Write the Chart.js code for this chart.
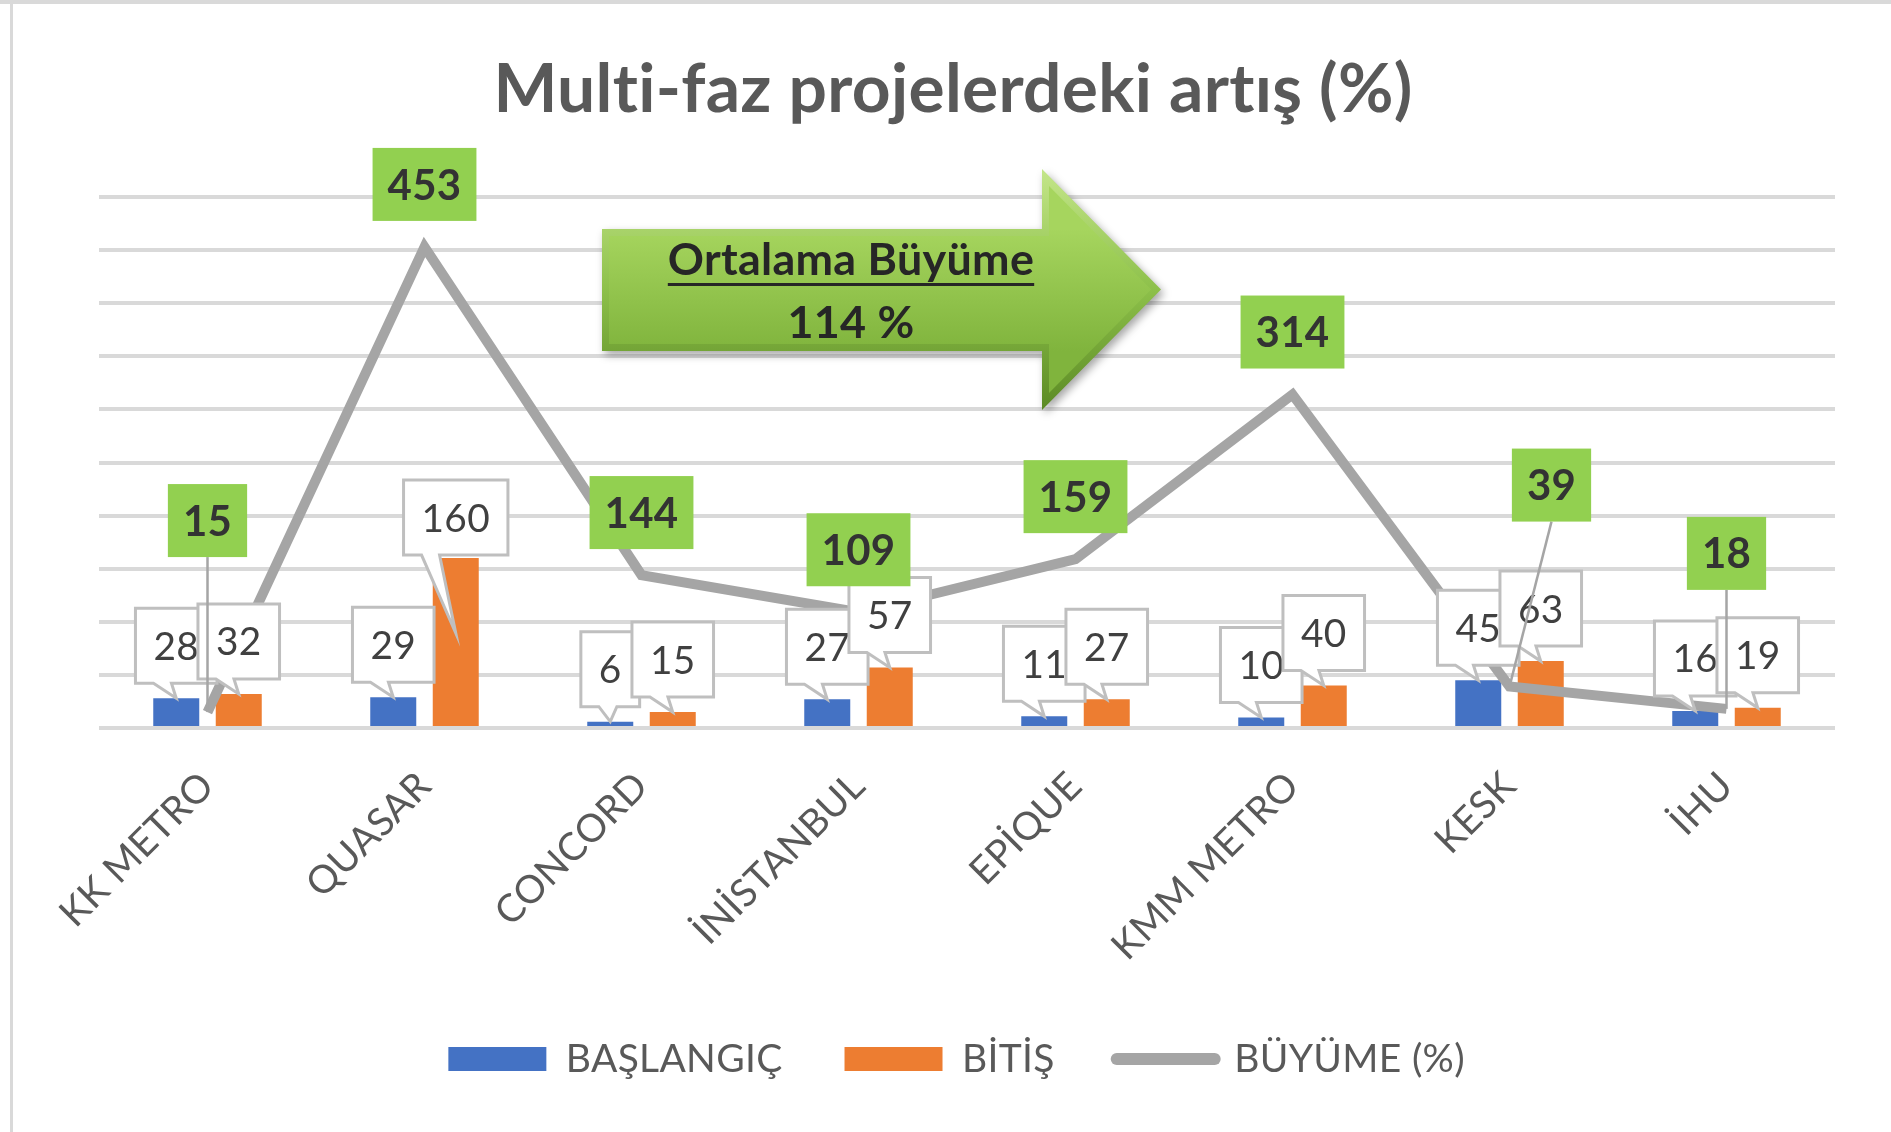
<!DOCTYPE html>
<html>
<head>
<meta charset="utf-8">
<script src="https://cdn.jsdelivr.net/npm/chart.js@4.4.1/dist/chart.umd.min.js"></script>
<style>
  html, body { margin: 0; padding: 0; background: #fff; }
  canvas { display: block; }
</style>
</head>
<body>
<canvas id="growthChart" width="1891" height="1132"></canvas>
<script>
const categories = ['KK METRO', 'QUASAR', 'CONCORD', 'İNİSTANBUL', 'EPİQUE', 'KMM METRO', 'KESK', 'İHU'];
const baslangic = [28, 29, 6, 27, 11, 10, 45, 16];
const bitis = [32, 160, 15, 57, 27, 40, 63, 19];
const buyume = [15, 453, 144, 109, 159, 314, 39, 18];
const seriesNames = ['BAŞLANGIÇ', 'BİTİŞ', 'BÜYÜME (%)'];
const chartTitle = 'Multi-faz projelerdeki artış (%)';
const averageTitle = 'Ortalama Büyüme';
const averageText = '114 %';

const FONT = 'Lato';
const measure = document.createElement('canvas').getContext('2d');
function fitSize(text, weight, width) {
    measure.font = weight + ' 100px ' + FONT;
    return 100 * width / measure.measureText(text).width;
}

const titleSize = fitSize(chartTitle, 'bold', 912);
const tickSize = fitSize('KMM METRO', 'normal', 243);
const legendSize = fitSize('BAŞLANGIÇ', 'normal', 214);
const badgeSize = fitSize('453', 'bold', 73);
const calloutSize = fitSize('32', 'normal', 45);
const arrowSize = fitSize(averageTitle, 'bold', 362);

// vertical layout
const plotTop = 197, plotBottom = 728;
const titlePadTop = 90 - titleSize * 0.6;
const titlePadBottom = plotTop - titlePadTop - titleSize * 1.2;
const legendPad = 62;
const legendTop = 1059 - legendPad - legendSize / 2;
const legendBottom = legendTop + legendPad + legendSize + 10;
const xAxisHeight = legendTop - plotBottom;

// labels that were moved by hand in the original
const calloutFix = { '1-1': { gap: 3, tip: 75 } };
const badgeFix = { 0: { dx: 0, lift: 155 }, 6: { dx: 42, lift: 165 }, 7: { dx: 0, lift: 119 } };

function drawCallout(ctx, x, y, text, fix) {
    const gap = fix ? fix.gap : 15;
    const tip = fix ? fix.tip : 0;
    ctx.font = 'normal ' + calloutSize + 'px ' + FONT;
    const w = ctx.measureText(text).width + 36;
    const h = 75;
    const left = x - w / 2, bottom = y - gap, top = bottom - h;
    ctx.beginPath();
    ctx.moveTo(left, top);
    ctx.lineTo(left + w, top);
    ctx.lineTo(left + w, bottom);
    ctx.lineTo(left + 36, bottom);
    ctx.lineTo(x, y + tip);
    ctx.lineTo(left + 18, bottom);
    ctx.lineTo(left, bottom);
    ctx.closePath();
    ctx.fillStyle = '#ffffff';
    ctx.fill();
    ctx.lineWidth = 3;
    ctx.strokeStyle = '#BFBFBF';
    ctx.stroke();
    ctx.fillStyle = '#404040';
    ctx.textAlign = 'center';
    ctx.textBaseline = 'alphabetic';
    ctx.fillText(text, x, top + h / 2 + calloutSize * 0.36);
}

function drawBadge(ctx, pt, text, fix) {
    const lift = fix ? fix.lift : 26;
    const cx = pt.x + (fix ? fix.dx : 0);
    ctx.font = 'bold ' + badgeSize + 'px ' + FONT;
    const w = ctx.measureText(text).width + 30;
    const h = 73;
    const bottom = pt.y - lift, top = bottom - h;
    if (lift > 40) {
        ctx.beginPath();
        ctx.moveTo(cx, bottom);
        ctx.lineTo(pt.x, pt.y);
        ctx.lineWidth = 2.5;
        ctx.strokeStyle = '#A5A5A5';
        ctx.stroke();
    }
    ctx.fillStyle = '#92D050';
    ctx.fillRect(cx - w / 2, top, w, h);
    ctx.fillStyle = '#333333';
    ctx.textAlign = 'center';
    ctx.textBaseline = 'alphabetic';
    ctx.fillText(text, cx, top + h / 2 + badgeSize * 0.36);
}

function arrowShape(ctx, d) {
    ctx.beginPath();
    ctx.moveTo(602 + d, 229 + d);
    ctx.lineTo(1042 + d, 229 + d);
    ctx.lineTo(1042 + d, 169 + d * 2.414);
    ctx.lineTo(1161 - d * 1.414, 289.5);
    ctx.lineTo(1042 + d, 410 - d * 2.414);
    ctx.lineTo(1042 + d, 351 - d);
    ctx.lineTo(602 + d, 351 - d);
    ctx.closePath();
}

const decorations = {
    id: 'decorations',
    beforeDraw(chart) {
        const ctx = chart.ctx;
        // tiny spacing keeps the "ti" ligature out of the title
        ctx.letterSpacing = '0.3px';
        ctx.save();
        ctx.fillStyle = '#ffffff';
        ctx.fillRect(0, 0, chart.width, chart.height);
        ctx.fillStyle = '#D9D9D9';
        ctx.fillRect(0, 0, chart.width, 4);
        ctx.fillRect(10, 0, 3, chart.height);
        ctx.restore();
    },
    afterDatasetsDraw(chart) {
        const ctx = chart.ctx;
        ctx.save();
        [0, 1].forEach(di => {
            const meta = chart.getDatasetMeta(di);
            const values = chart.data.datasets[di].data;
            meta.data.forEach((bar, i) => {
                drawCallout(ctx, bar.x, bar.y, String(values[i]), calloutFix[di + '-' + i]);
            });
        });
        const lineMeta = chart.getDatasetMeta(2);
        lineMeta.data.forEach((pt, i) => {
            drawBadge(ctx, pt, String(buyume[i]), badgeFix[i]);
        });

        // average growth arrow
        ctx.save();
        ctx.shadowColor = 'rgba(0,0,0,0.35)';
        ctx.shadowBlur = 8;
        ctx.shadowOffsetX = 3;
        ctx.shadowOffsetY = 4;
        const outer = ctx.createLinearGradient(0, 169, 0, 410);
        outer.addColorStop(0, '#C4E68A');
        outer.addColorStop(0.5, '#8DC04A');
        outer.addColorStop(1, '#5B8A24');
        arrowShape(ctx, 0);
        ctx.fillStyle = outer;
        ctx.fill();
        ctx.restore();
        const inner = ctx.createLinearGradient(0, 229, 0, 351);
        inner.addColorStop(0, '#A6D55E');
        inner.addColorStop(1, '#80B43D');
        arrowShape(ctx, 7);
        ctx.fillStyle = inner;
        ctx.fill();

        ctx.fillStyle = '#262626';
        ctx.textAlign = 'center';
        ctx.textBaseline = 'alphabetic';
        ctx.font = 'bold ' + arrowSize + 'px ' + FONT;
        ctx.fillText(averageTitle, 851, 275);
        const tw = ctx.measureText(averageTitle).width;
        ctx.fillRect(851 - tw / 2, 283, tw, 3);
        ctx.fillText(averageText, 851, 338);
        ctx.restore();
    }
};

new Chart(document.getElementById('growthChart'), {
    type: 'bar',
    data: {
        labels: categories,
        datasets: [{
            label: seriesNames[0],
            data: baslangic,
            backgroundColor: '#4472C4',
            categoryPercentage: 0.576,
            barPercentage: 0.736,
            order: 2
        }, {
            label: seriesNames[1],
            data: bitis,
            backgroundColor: '#ED7D31',
            categoryPercentage: 0.576,
            barPercentage: 0.736,
            order: 2
        }, {
            type: 'line',
            label: seriesNames[2],
            data: buyume,
            borderColor: '#A5A5A5',
            backgroundColor: '#A5A5A5',
            borderWidth: 10,
            pointRadius: 0,
            tension: 0,
            order: 1
        }]
    },
    options: {
        responsive: false,
        animation: false,
        devicePixelRatio: 1,
        layout: { padding: { left: 56, right: 41, top: 0, bottom: 1132 - legendBottom } },
        scales: {
            x: {
                grid: { display: false },
                border: { display: false },
                ticks: {
                    color: '#595959',
                    font: { family: FONT, size: tickSize },
                    minRotation: 45,
                    maxRotation: 45,
                    autoSkip: false,
                    padding: 27
                },
                afterFit(scale) { scale.height = xAxisHeight; }
            },
            y: {
                min: 0,
                max: 500,
                ticks: { display: false, stepSize: 50 },
                grid: { color: '#D9D9D9', lineWidth: 4, drawTicks: false },
                border: { display: false },
                afterFit(scale) { scale.width = 43; }
            },
            y2: {
                position: 'right',
                min: 0,
                max: 1,
                ticks: { display: false },
                grid: { display: false, drawTicks: false },
                border: { display: false },
                afterFit(scale) { scale.width = 15; }
            }
        },
        plugins: {
            title: {
                display: true,
                text: chartTitle,
                color: '#595959',
                font: { family: FONT, size: titleSize, weight: 'bold', lineHeight: 1.2 },
                padding: { top: titlePadTop, bottom: titlePadBottom }
            },
            legend: {
                position: 'bottom',
                labels: {
                    color: '#595959',
                    font: { family: FONT, size: legendSize },
                    usePointStyle: true,
                    pointStyleWidth: 98,
                    boxHeight: 24,
                    padding: legendPad,
                    sort: (a, b) => a.datasetIndex - b.datasetIndex,
                    generateLabels(chart) {
                        return chart.data.datasets.map((ds, i) => {
                            const isLine = ds.type === 'line';
                            return {
                                text: ds.label,
                                datasetIndex: i,
                                fillStyle: isLine ? ds.borderColor : ds.backgroundColor,
                                strokeStyle: isLine ? ds.borderColor : ds.backgroundColor,
                                lineWidth: isLine ? 12 : 0,
                                lineCap: 'round',
                                pointStyle: isLine ? 'line' : 'rect',
                                fontColor: '#595959',
                                hidden: false
                            };
                        });
                    }
                }
            },
            tooltip: { enabled: false }
        }
    },
    plugins: [decorations]
});
</script>
</body>
</html>
